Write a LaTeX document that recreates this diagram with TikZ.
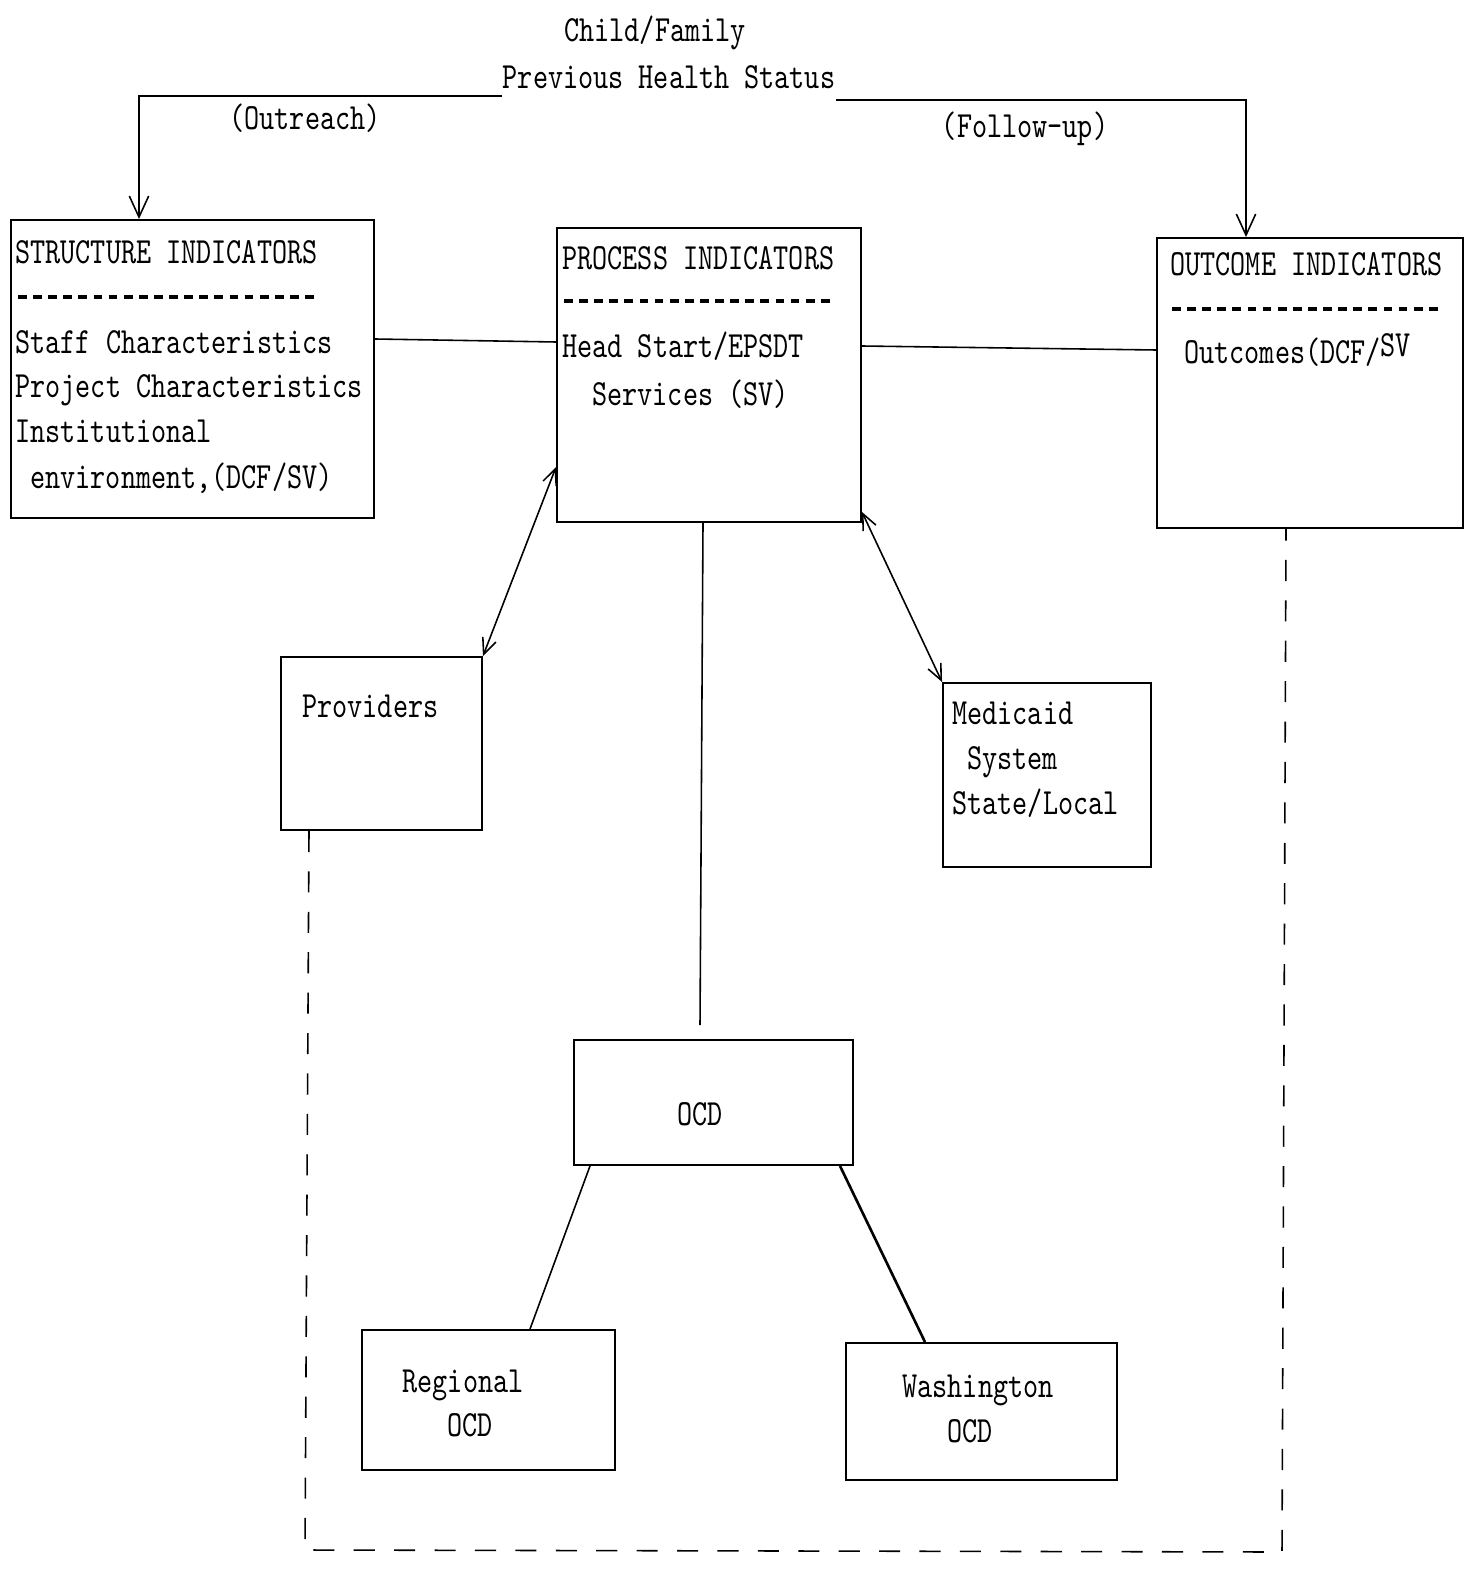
\documentclass[tikz,border=0pt]{standalone}
\usepackage{fontspec}
\newfontfamily\typer{lmmono10-regular.otf}[FakeStretch=0.78]
\usetikzlibrary{arrows.meta,fit}

\tikzset{
  box/.style={draw, line width=1.1pt, inner sep=0pt},
  txt/.style={font=\typer\fontsize{21pt}{25pt}\selectfont, inner sep=0pt, anchor=base west},
  link/.style={line width=0.9pt},
  flow/.style={link, -{Straight Barb[length=12pt,width=11pt]}},
  both/.style={link, {Straight Barb[length=9pt,width=8pt]}-{Straight Barb[length=9pt,width=8pt]}},
  rulerow/.style={line width=2pt, dash pattern=on 5pt off 3.6pt},
  back/.style={line width=0.9pt, dash pattern=on 12pt off 11pt}
}

\begin{document}
\begin{tikzpicture}[x=0.02cm, y=-0.02cm]
  \useasboundingbox (0,0) rectangle (1476,1574);

  % title
  \node[txt, anchor=base] (child) at (655,42) {Child/Family};
  \node[txt, anchor=base] (status) at (669,89) {Previous Health Status};
  \node[txt, anchor=base] (outreach) at (305,130) {(Outreach)};
  \node[txt, anchor=base] (followup) at (1025,138) {(Follow-up)};

  % indicator boxes
  \node[box, fit={(11,220) (374,518)}] (si) {};
  \node[txt] (sihead) at (15,264) {STRUCTURE INDICATORS};
  \draw[rulerow] (18,297) -- (318,297);
  \node[txt] (si1) at (15,354) {Staff Characteristics};
  \node[txt] (si2) at (15,398) {Project Characteristics};
  \node[txt] (si3) at (15,442) {Institutional};
  \node[txt] (si4) at (30,488) {environment,(DCF/SV)};

  \node[box, fit={(557,228) (861,522)}] (pi) {};
  \node[txt] (pihead) at (562,270) {PROCESS INDICATORS};
  \draw[rulerow] (564,301) -- (833,301);
  \node[txt] (pi1) at (562,358) {Head Start/EPSDT};
  \node[txt] (pi2) at (592,405) {Services (SV)};

  \node[box, fit={(1157,238) (1463,528)}] (oi) {};
  \node[txt] (oihead) at (1170,276) {OUTCOME INDICATORS};
  \draw[rulerow] (1172,309) -- (1440,309);
  \node[txt] (oi1) at (1184,364) {Outcomes(DCF/\raisebox{4pt}{SV}};

  % agencies
  \node[box, fit={(281,657) (482,830)}] (pv) {};
  \node[txt] (pvtxt) at (302,717) {Providers};

  \node[box, fit={(943,683) (1151,867)}] (md) {};
  \node[txt] (md1) at (952,724) {Medicaid};
  \node[txt] (md2) at (967,769) {System};
  \node[txt] (md3) at (952,814) {State/Local};

  \node[box, fit={(574,1040) (853,1165)}] (ocd) {};
  \node[txt, anchor=base] (ocdtxt) at (700,1125) {OCD};

  \node[box, fit={(362,1330) (615,1470)}] (rg) {};
  \node[txt, anchor=base] (rg1) at (463,1392) {Regional};
  \node[txt, anchor=base] (rg2) at (470,1436) {OCD};

  \node[box, fit={(846,1343) (1117,1480)}] (wa) {};
  \node[txt, anchor=base] (wa1) at (978,1397) {Washington};
  \node[txt, anchor=base] (wa2) at (970,1442) {OCD};

  % connectors
  \draw[flow] (status.south west) ++(0,6) -| (si.north -| 139,0);
  \draw[flow] (status.south east) ++(0,10) -| (oi.north -| 1246,0);
  \draw[link] (si.east |- 0,339) -- (pi.west |- 0,342);
  \draw[link] (pi.east |- 0,346) -- (oi.west |- 0,350);
  \draw[both] (pi.west |- 0,467) -- (pv.north east);
  \draw[both] (pi.east |- 0,512) -- (md.north west);
  \draw[link] (pi.south -| 703,0) -- (700,1025);
  \draw[link] (ocd.south -| 590,0) -- (rg.north -| 530,0);
  \draw[link, line width=1.5pt] (ocd.south -| 840,0) -- (wa.north -| 925,0);

  % feedback loop
  \draw[back] (pv.south -| 309,0) -- (305,1550) -- (1282,1552) -- (oi.south -| 1286,0);
\end{tikzpicture}
\end{document}
